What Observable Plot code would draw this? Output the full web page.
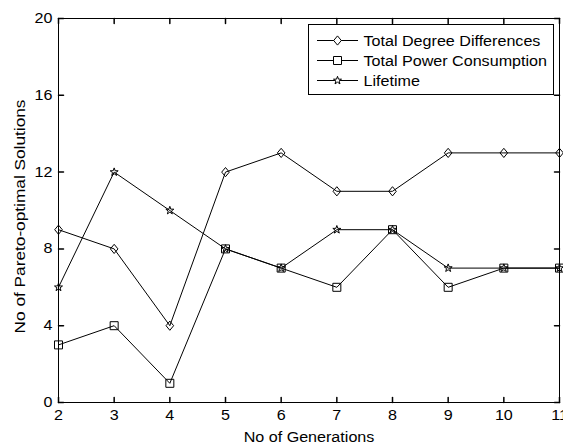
<!DOCTYPE html>
<html><head><meta charset="utf-8">
<script src="https://cdn.jsdelivr.net/npm/d3@7"></script>
<script src="https://cdn.jsdelivr.net/npm/@observablehq/plot@0.6"></script>
<style>
body{margin:0;background:#fff;}
#chart{position:relative;width:563px;height:444px;overflow:hidden;}
#legend{position:absolute;left:308px;top:24px;width:246px;height:71px;box-sizing:border-box;border:1px solid #000;background:#fff;}
#legend svg{position:absolute;left:-1px;top:-1px;overflow:visible;}
</style></head><body><div id="chart"></div>
<script>
// ---- data ----
const generations = [2, 3, 4, 5, 6, 7, 8, 9, 10, 11];
const totalDegreeDifferences = [9, 8, 4, 12, 13, 11, 11, 13, 13, 13];
const totalPowerConsumption = [3, 4, 1, 8, 7, 6, 9, 6, 7, 7];
const lifetime = [6, 12, 10, 8, 7, 9, 9, 7, 7, 7];
const seriesNames = ["Total Degree Differences", "Total Power Consumption", "Lifetime"];
const xTicks = [2, 3, 4, 5, 6, 7, 8, 9, 10, 11];
const yTicks = [0, 4, 8, 12, 16, 20];
const xLabel = "No of Generations";
const yLabel = "No of Pareto-optimal Solutions";

// ---- marker symbols (MATLAB-like, hollow) ----
const diamondSym = {draw(ctx, size) {
  const r = Math.sqrt(size / Math.PI), w = r * 0.95, h = r * 1.15;
  ctx.moveTo(0, -h); ctx.lineTo(w, 0); ctx.lineTo(0, h); ctx.lineTo(-w, 0); ctx.closePath();
}};
const squareSym = {draw(ctx, size) {
  const r = Math.sqrt(size / Math.PI);
  ctx.moveTo(-r, -r); ctx.lineTo(r, -r); ctx.lineTo(r, r); ctx.lineTo(-r, r); ctx.closePath();
}};
const starSym = {draw(ctx, size) {
  const R = Math.sqrt(size / Math.PI) * 1.05, ri = R * 0.4;
  for (let k = 0; k < 10; k++) {
    const a = -Math.PI / 2 + k * Math.PI / 5, rr = k % 2 ? ri : R;
    const x = rr * Math.cos(a), y = rr * Math.sin(a);
    k ? ctx.lineTo(x, y) : ctx.moveTo(x, y);
  }
  ctx.closePath();
}};

const series = [
  {name: seriesNames[0], values: totalDegreeDifferences, symbol: diamondSym},
  {name: seriesNames[1], values: totalPowerConsumption, symbol: squareSym},
  {name: seriesNames[2], values: lifetime, symbol: starSym}
];

const tickShape = {draw(ctx, l) { ctx.moveTo(0, 0); ctx.lineTo(0, -l); }};
const tickLen = 5;

const marks = [
  Plot.frame({stroke: "black", strokeWidth: 1}),
  Plot.vector(xTicks, {x: d => d, frameAnchor: "bottom", anchor: "start", rotate: 0, length: tickLen, shape: tickShape, stroke: "black"}),
  Plot.vector(xTicks, {x: d => d, frameAnchor: "top", anchor: "start", rotate: 180, length: tickLen, shape: tickShape, stroke: "black"}),
  Plot.vector(yTicks, {y: d => d, frameAnchor: "left", anchor: "start", rotate: 90, length: tickLen, shape: tickShape, stroke: "black"}),
  Plot.vector(yTicks, {y: d => d, frameAnchor: "right", anchor: "start", rotate: -90, length: tickLen, shape: tickShape, stroke: "black"}),
  Plot.axisX({ticks: xTicks, tickSize: 0, tickPadding: 8, fontSize: 14, label: null, tickFormat: d => String(d)}),
  Plot.axisY({ticks: yTicks, tickSize: 0, tickPadding: 6, fontSize: 14, label: null, tickFormat: d => String(d)}),
  Plot.text([xLabel], {frameAnchor: "bottom", dy: 35, lineAnchor: "middle", textAnchor: "middle", fontSize: 14, text: d => d}),
  Plot.text([yLabel], {frameAnchor: "left", dx: -38, dy: 6, rotate: -90, lineAnchor: "middle", textAnchor: "middle", fontSize: 15, text: d => d})
];
for (const s of series) {
  const data = generations.map((g, i) => ({g, v: s.values[i]}));
  marks.push(Plot.line(data, {x: "g", y: "v", stroke: "black", strokeWidth: 1}));
  marks.push(Plot.dot(data, {x: "g", y: "v", symbol: s.symbol, r: 4, stroke: "black", fill: "none", strokeWidth: 1}));
}

const chart = Plot.plot({
  width: 563, height: 444,
  marginLeft: 58, marginRight: 4, marginTop: 18, marginBottom: 42,
  x: {domain: [2, 11], label: null},
  y: {domain: [0, 20], label: null},
  style: {fontFamily: "'Liberation Sans', Arial, sans-serif", fontSize: "14px", background: "white", color: "black", overflow: "visible"},
  marks
});
const host = document.getElementById("chart");
host.appendChild(chart);

// ---- legend (inside the axes, top right) ----
const legend = document.createElement("div");
legend.id = "legend";
const ns = "http://www.w3.org/2000/svg";
const lsvg = document.createElementNS(ns, "svg");
lsvg.setAttribute("width", 246); lsvg.setAttribute("height", 71);
lsvg.style.fontFamily = "'Liberation Sans', Arial, sans-serif";
series.forEach((s, i) => {
  const cy = 16.5 + i * 20;
  const line = document.createElementNS(ns, "line");
  line.setAttribute("x1", 9); line.setAttribute("x2", 50); line.setAttribute("y1", cy); line.setAttribute("y2", cy);
  line.setAttribute("stroke", "black");
  lsvg.appendChild(line);
  const p = document.createElementNS(ns, "path");
  p.setAttribute("d", d3.symbol(s.symbol, Math.PI * 16)());
  p.setAttribute("transform", `translate(29.5,${cy})`);
  p.setAttribute("fill", "white"); p.setAttribute("stroke", "black");
  lsvg.appendChild(p);
  const t = document.createElementNS(ns, "text");
  t.setAttribute("x", 55.5); t.setAttribute("y", cy + 5);
  t.setAttribute("font-size", 14);
  t.textContent = s.name;
  lsvg.appendChild(t);
});
legend.appendChild(lsvg);
host.appendChild(legend);

// widen glyphs to match the reference's wider rendering of Helvetica
for (const t of host.querySelectorAll("text")) {
  const L = t.getComputedTextLength();
  if (L > 0) { t.setAttribute("textLength", L * 1.15); t.setAttribute("lengthAdjust", "spacingAndGlyphs"); }
}
</script>
</body></html>
